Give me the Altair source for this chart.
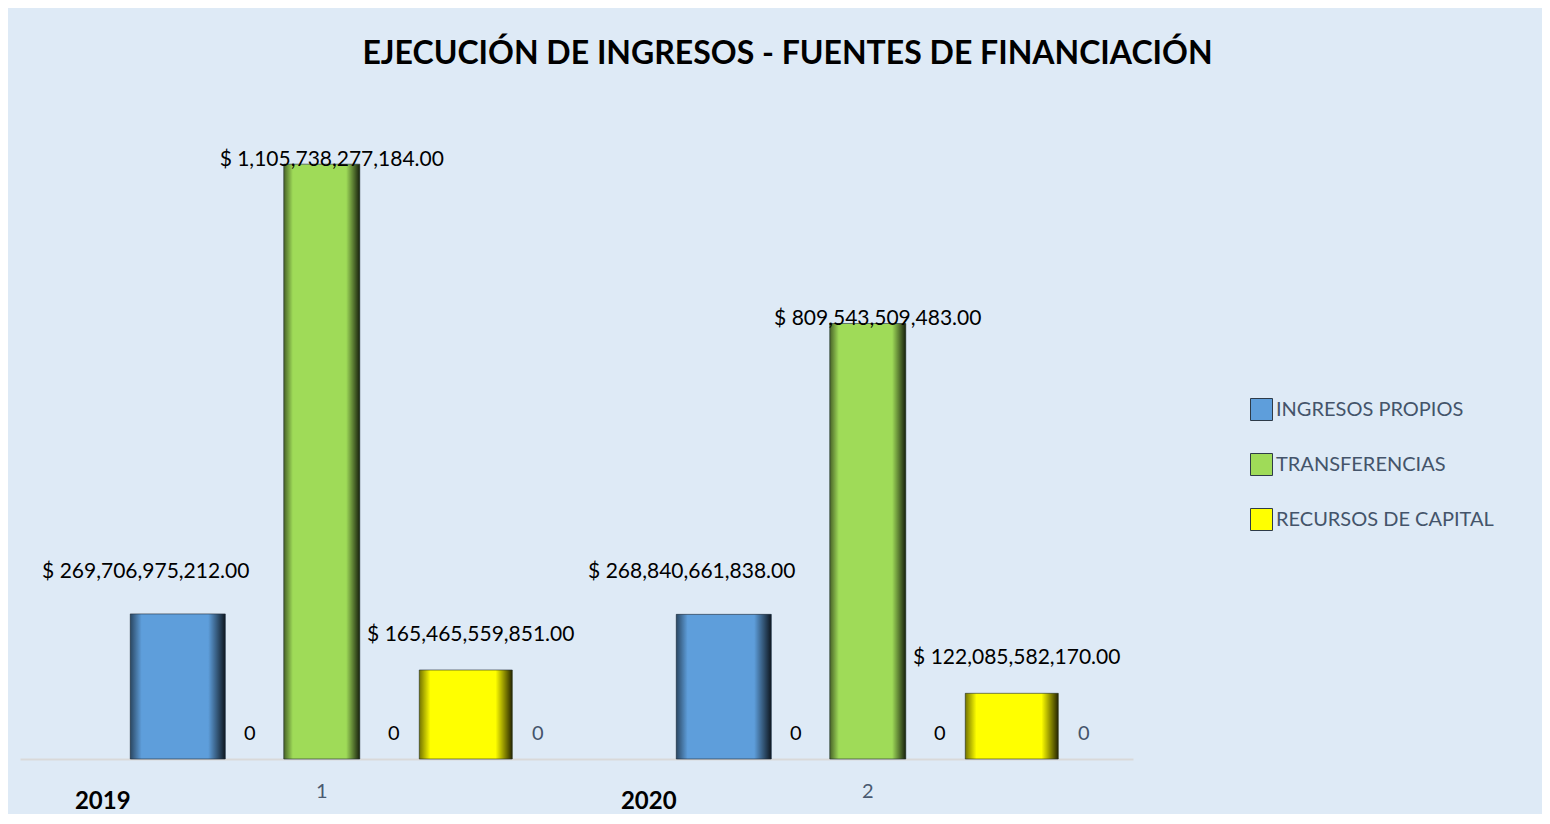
import altair as alt
import pandas as pd

# ---------------- data ----------------
groups = ["1", "2"]
years = ["2019", "2020"]
series = ["INGRESOS PROPIOS", "TRANSFERENCIAS", "RECURSOS DE CAPITAL"]
ingresos_propios = [269706975212.00, 268840661838.00]
transferencias = [1105738277184.00, 809543509483.00]
recursos_capital = [165465559851.00, 122085582170.00]
zero_slots = ["cero 1", "cero 2", "cero 3"]
zero_values = [0, 0, 0]
slots = ["año", "INGRESOS PROPIOS", "cero 1", "TRANSFERENCIAS",
         "cero 2", "RECURSOS DE CAPITAL", "cero 3"]

colors = ["#5E9EDB", "#9FDB58", "#FFFF00"]
bar_widths = [95, 76, 93]
label_dx = [-32, 10, 5]
label_dy = [-42, -4, -35]

values_by_series = [ingresos_propios, transferencias, recursos_capital]
bar_rows = []
for s, vals in zip(series, values_by_series):
    for g, y, v in zip(groups, years, vals):
        bar_rows.append({"group": g, "year": y, "serie": s, "slot": s, "value": v})
bars_df = pd.DataFrame(bar_rows)

zero_rows = []
for g in groups:
    for zs, zv in zip(zero_slots, zero_values):
        zero_rows.append({"group": g, "slot": zs, "value": zv})
zeros_df = pd.DataFrame(zero_rows)

years_df = pd.DataFrame({"group": groups, "year": years, "slot": ["año"] * 2, "value": [0, 0]})

FONT = "Lato"

# ---------------- shared encodings ----------------
x_enc = alt.X(
    "group:N",
    sort=groups,
    scale=alt.Scale(paddingInner=0.0769, paddingOuter=0.0577, align=0.79),
    axis=alt.Axis(
        title=None, labelAngle=0, ticks=False, domainColor="#D9D9D9", domainWidth=2,
        labelFont=FONT, labelFontSize=20, labelColor="#4A5A70", labelPadding=22,
        grid=False,
    ),
)
xo_enc = alt.XOffset("slot:N", scale=alt.Scale(domain=slots, paddingInner=0, paddingOuter=0))
y_enc = alt.Y("value:Q", scale=alt.Scale(domain=[0, 1.225e12]), axis=None)
color_enc = alt.Color(
    "serie:N",
    scale=alt.Scale(domain=series, range=colors),
    legend=alt.Legend(
        title=None, orient="none", legendX=1230, legendY=298, direction="vertical",
        symbolType="square", symbolSize=484, symbolStrokeColor="#2E3B48",
        symbolStrokeWidth=1, symbolOpacity=1, labelFont=FONT, labelFontSize=20,
        labelColor="#44546A", labelOffset=3, rowPadding=28, padding=0, labelLimit=0,
    ),
)

edge_gradient = alt.LinearGradient(
    gradient="linear",
    stops=[
        alt.GradientStop(color="rgba(0,0,0,0.55)", offset=0),
        alt.GradientStop(color="rgba(0,0,0,0.0)", offset=0.12),
        alt.GradientStop(color="rgba(0,0,0,0.0)", offset=0.82),
        alt.GradientStop(color="rgba(0,0,0,0.85)", offset=1),
    ],
    x1=0, x2=1, y1=0, y2=0,
)

layers = []
base_bars = alt.Chart(bars_df)
for i, s in enumerate(series):
    sub = base_bars.transform_filter(alt.datum.serie == s)
    layers.append(
        sub.mark_bar(size=bar_widths[i]).encode(x=x_enc, xOffset=xo_enc, y=y_enc, color=color_enc)
    )
    layers.append(
        sub.mark_bar(size=bar_widths[i], fill=edge_gradient, stroke="#1E2A36",
                     strokeOpacity=0.6, strokeWidth=1).encode(x=x_enc, xOffset=xo_enc, y=y_enc)
    )
    layers.append(
        sub.transform_calculate(label="'$ ' + format(datum.value, ',.2f')")
        .mark_text(font=FONT, fontSize=21, color="#000000", dx=label_dx[i], dy=label_dy[i],
                   baseline="middle", align="center")
        .encode(x=x_enc, xOffset=xo_enc, y=y_enc, text="label:N")
    )

zeros_base = alt.Chart(zeros_df)
layers.append(
    zeros_base.transform_filter(alt.datum.slot != "cero 3")
    .mark_text(font=FONT, fontSize=20, color="#000000", dy=-25, baseline="middle")
    .encode(x=x_enc, xOffset=xo_enc, y=y_enc, text="value:Q")
)
layers.append(
    zeros_base.transform_filter(alt.datum.slot == "cero 3")
    .mark_text(font=FONT, fontSize=20, color="#44546A", dy=-25, baseline="middle")
    .encode(x=x_enc, xOffset=xo_enc, y=y_enc, text="value:Q")
)
layers.append(
    alt.Chart(years_df)
    .mark_text(font=FONT, fontSize=24, fontWeight="bold", color="#000000", dy=43, dx=-3,
               baseline="middle")
    .encode(x=x_enc, xOffset=xo_enc, y=y_enc, text="year:N")
)

chart = (
    alt.layer(*layers)
    .properties(
        width=1113,
        height=659,
        autosize=alt.AutoSizeParams(type="none"),
        padding={"left": 12, "top": 92, "right": 409, "bottom": 55},
        background="#DEEAF6",
        title=alt.TitleParams(
            "EJECUCIÓN DE INGRESOS - FUENTES DE FINANCIACIÓN",
            font=FONT, fontSize=32, fontWeight="bold", color="#000000",
            anchor="middle", dx=211, offset=29,
        ),
    )
    .configure_view(stroke=None)
)

chart.save("out.html", embed_options={"renderer": "svg", "actions": False})
